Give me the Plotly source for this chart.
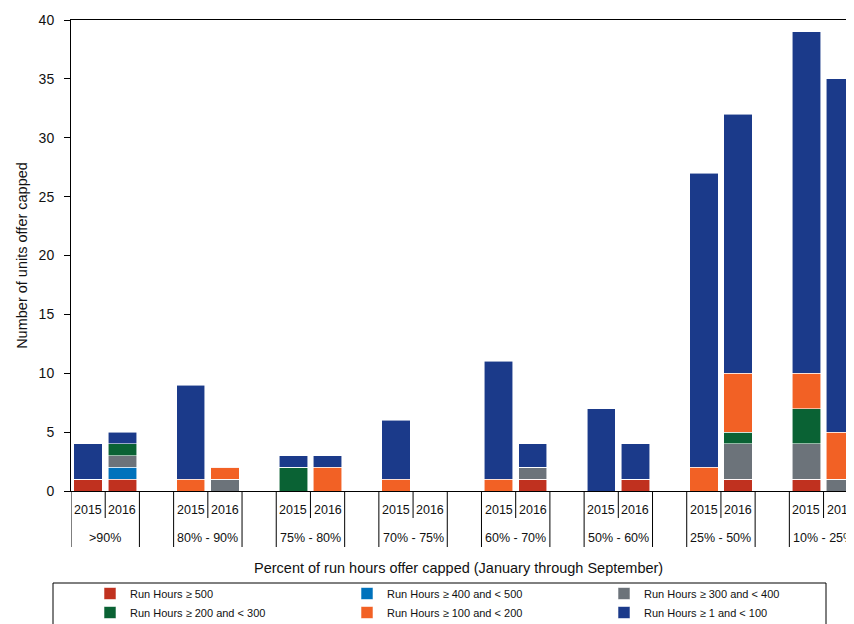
import plotly.graph_objects as go

groups = [">90%", "80% - 90%", "75% - 80%", "70% - 75%", "60% - 70%", "50% - 60%", "25% - 50%", "10% - 25%"]
years = ["2015", "2016"]

series_names = [
    "Run Hours \u2265 500",
    "Run Hours \u2265 400 and < 500",
    "Run Hours \u2265 300 and < 400",
    "Run Hours \u2265 200 and < 300",
    "Run Hours \u2265 100 and < 200",
    "Run Hours \u2265 1 and < 100",
]
colors = ["#C0311F", "#0072BC", "#6C737A", "#0A6234", "#F26125", "#1B3A8A"]

# values per (group, year) in order: >90 2015, >90 2016, 80-90 2015, ...
run_500 =      [1, 1, 0, 0, 0, 0, 0, 0, 0, 1, 0, 1, 0, 1, 1, 0]
run_400_500 =  [0, 1, 0, 0, 0, 0, 0, 0, 0, 0, 0, 0, 0, 0, 0, 0]
run_300_400 =  [0, 1, 0, 1, 0, 0, 0, 0, 0, 1, 0, 0, 0, 3, 3, 1]
run_200_300 =  [0, 1, 0, 0, 2, 0, 0, 0, 0, 0, 0, 0, 0, 1, 3, 0]
run_100_200 =  [0, 0, 1, 1, 0, 2, 1, 0, 1, 0, 0, 0, 2, 5, 3, 4]
run_1_100 =    [3, 1, 8, 0, 1, 1, 5, 0, 10, 2, 7, 3, 25, 22, 29, 30]

series_values = [run_500, run_400_500, run_300_400, run_200_300, run_100_200, run_1_100]

FONT = "Liberation Sans, Arial, sans-serif"

# slot positions: each group uses 3 slots (2015, 2016, gap)
xpos = []
for gi in range(len(groups)):
    for yi in range(len(years)):
        xpos.append(3 * gi + yi)

fig = go.Figure()
for name, col, vals in zip(series_names, colors, series_values):
    fig.add_trace(go.Bar(
        x=xpos, y=vals, name=name,
        marker=dict(color=col, line=dict(color="rgba(255,255,255,0.7)", width=0.8)),
        width=0.83,
    ))

# page has an 8px body margin: figure is 846x616, placed at (8, 8)
OFF = 8
PL, PT, PR, PB = 71, 20, 854, 491  # plot area in page pixels
H = float(PB - PT)
W = float(PR - PL)

annotations = []
shapes = []
for gi, g in enumerate(groups):
    for yi, yr in enumerate(years):
        annotations.append(dict(x=3 * gi + yi, y=0, xref="x", yref="paper", text=yr, yanchor="middle",
                                showarrow=False, yshift=-19, font=dict(size=12.5, color="#111", family=FONT)))
    annotations.append(dict(x=3 * gi + 0.5, y=0, xref="x", yref="paper", text=g, yanchor="middle",
                            showarrow=False, yshift=-47, font=dict(size=12.5, color="#111", family=FONT)))
    # divider lines
    for xb, ln in [(3 * gi - 0.5, 56), (3 * gi + 0.5, 27), (3 * gi + 1.5, 56)]:
        shapes.append(dict(type="line", xref="x", yref="paper", x0=xb, x1=xb, y0=0, y1=-ln / H,
                           line=dict(color="black", width=1)))

annotations.append(dict(x=(458 - PL) / W, y=0, xref="paper", yref="paper", yanchor="middle",
                        text="Percent of run hours offer capped (January through September)",
                        showarrow=False, yshift=-77, font=dict(size=14.5, color="#111", family=FONT)))

# legend box
shapes.append(dict(type="rect", xref="paper", yref="paper",
                   x0=(53 - PL) / W, x1=(826 - PL) / W,
                   y0=(PB - 640) / H, y1=(PB - 583) / H,
                   line=dict(color="black", width=1), fillcolor="rgba(0,0,0,0)"))

fig.update_layout(
    width=854 - OFF, height=624 - OFF,
    margin=dict(l=PL - OFF, r=0, t=PT - OFF, b=624 - PB, autoexpand=False),
    barmode="stack",
    plot_bgcolor="white", paper_bgcolor="white",
    font=dict(family=FONT, color="#111"),
    showlegend=True,
    legend=dict(orientation="h", x=(90 - PL) / W, y=(PB - 579) / H, xanchor="left", yanchor="top",
                entrywidth=212, entrywidthmode="pixels", traceorder="normal",
                font=dict(size=11, family=FONT, color="#111"), bgcolor="rgba(0,0,0,0)",
                itemclick=False, tracegroupgap=0),
    xaxis=dict(range=[-0.5, 22.39], showticklabels=False, ticks="", showgrid=False, zeroline=False,
               showline=True, linecolor="black", linewidth=1, mirror=True, automargin=False),
    yaxis=dict(range=[0, 40], tick0=0, dtick=5, ticks="outside", ticklen=6, tickcolor="black",
               showgrid=False, zeroline=False, showline=True, linecolor="black", linewidth=1,
               automargin=False, ticklabelstandoff=7,
               tickfont=dict(size=14, family=FONT, color="#111"),
               title=dict(text="Number of units offer capped", font=dict(size=14.5, family=FONT, color="#111"),
                          standoff=7)),
    annotations=annotations,
    shapes=shapes,
)

fig.write_html("out.html")
